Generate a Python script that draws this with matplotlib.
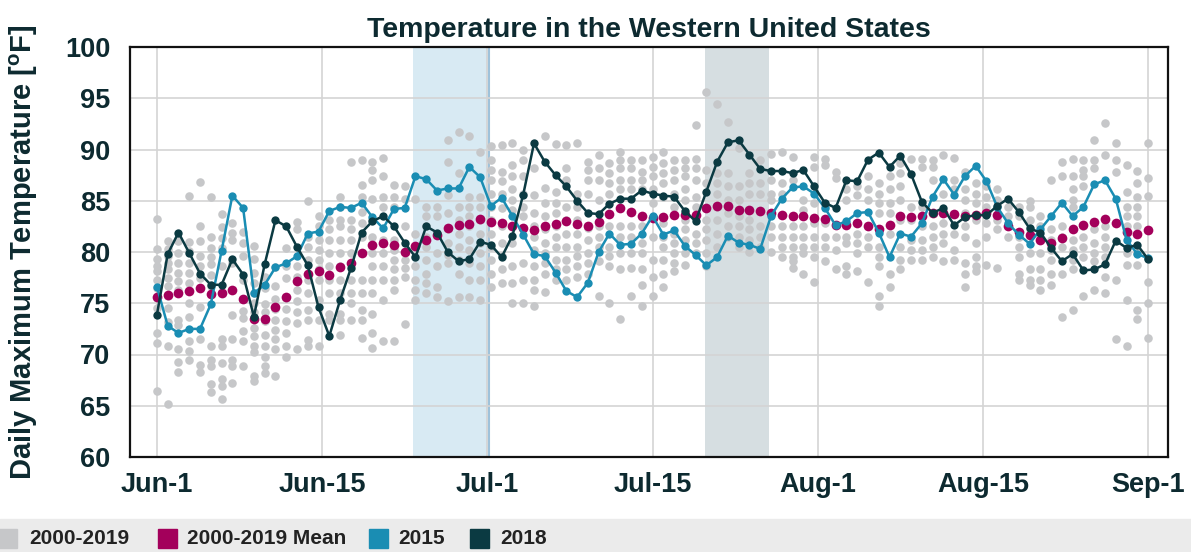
import numpy as np
import matplotlib
matplotlib.use('Agg')
from matplotlib import pyplot as plt
from matplotlib.patches import Rectangle

plt.rcParams['font.family'] = ['Liberation Sans', 'DejaVu Sans']
plt.rcParams['font.weight'] = 'bold'
plt.rcParams['mathtext.fontset'] = 'custom'
plt.rcParams['mathtext.rm'] = 'Liberation Sans:bold'
plt.rcParams['mathtext.bf'] = 'Liberation Sans:bold'

# 每天一个点, Jun-1 .. Sep-1
days = np.arange(93)
tick_labels = ['Jun-1', 'Jun-15', 'Jul-1', 'Jul-15', 'Aug-1', 'Aug-15', 'Sep-1']

mean_vals = [75.6, 75.8, 76.0, 76.2, 76.5, 75.9, 76.0, 76.3, 75.4, 73.5,
             73.5, 74.6, 75.6, 77.2, 77.9, 78.1, 77.8, 78.5, 78.9, 79.9,
             80.7, 80.9, 80.7, 80.0, 80.6, 81.2, 81.7, 82.3, 82.6, 82.7,
             83.2, 82.9, 82.8, 82.5, 82.3, 82.1, 82.5, 82.7, 83.0, 82.7,
             82.5, 82.9, 83.7, 84.3, 83.9, 83.5, 83.3, 83.4, 83.6, 83.6,
             83.6, 84.3, 84.5, 84.5, 84.1, 84.1, 84.0, 83.8, 83.6, 83.5,
             83.5, 83.3, 83.2, 82.6, 82.6, 82.8, 82.5, 82.2, 82.6, 83.5,
             83.4, 83.5, 83.8, 83.8, 83.7, 83.5, 83.6, 83.8, 83.6, 82.5,
             82.0, 81.7, 81.2, 80.9, 81.4, 82.2, 82.6, 82.9, 83.2, 82.8,
             82.0, 81.8, 82.1]

t2015 = [76.6, 72.8, 72.1, 72.5, 72.5, 74.9, 80.1, 85.5, 84.3, 76.0,
         76.8, 78.5, 78.9, 79.6, 81.8, 82.0, 84.0, 84.4, 84.3, 84.8,
         83.4, 82.3, 84.2, 84.3, 87.4, 87.1, 86.0, 86.2, 86.2, 88.3,
         87.3, 84.5, 85.3, 83.5, 81.7, 79.8, 79.6, 78.0, 76.2, 75.6,
         77.0, 80.0, 81.8, 80.7, 80.8, 81.8, 83.5, 81.7, 82.1, 80.6,
         79.7, 78.7, 79.5, 81.6, 80.9, 80.7, 80.3, 83.5, 85.2, 86.3,
         86.4, 85.7, 84.3, 82.6, 83.0, 83.8, 83.9, 81.9, 79.5, 81.8,
         81.5, 82.8, 85.4, 87.1, 85.6, 87.4, 88.4, 86.9, 84.4, 82.8,
         81.7, 80.8, 82.2, 83.5, 84.8, 83.5, 84.4, 86.6, 87.0, 85.2,
         81.2, 79.8, 79.4]

t2018 = [73.9, 79.8, 81.9, 79.9, 77.9, 76.8, 76.8, 79.3, 77.8, 73.7,
         78.8, 83.1, 82.5, 80.5, 78.7, 74.6, 71.8, 75.3, 78.4, 81.9,
         83.0, 83.5, 82.5, 80.9, 79.5, 82.5, 81.9, 80.0, 79.1, 79.3,
         81.0, 80.7, 79.5, 81.6, 85.6, 90.6, 88.8, 87.5, 86.4, 85.0,
         83.8, 83.7, 84.7, 85.2, 85.2, 86.0, 85.7, 85.5, 85.4, 84.0,
         83.0, 85.9, 88.8, 90.7, 90.9, 89.5, 88.1, 87.9, 87.9, 87.7,
         88.0, 86.4, 84.8, 84.3, 87.0, 86.9, 89.0, 89.7, 88.3, 89.4,
         87.6, 84.9, 83.8, 84.3, 82.6, 83.4, 83.6, 83.6, 84.5, 85.2,
         83.9, 82.3, 81.9, 80.4, 79.1, 79.8, 78.2, 78.3, 78.8, 81.1,
         80.4, 80.7, 79.3]

# 2000-2019 各年 (每天一列)
gray_vals = [
    [83.2, 80.3, 79.3, 78.6, 78.1, 77.3, 76.5, 75.5, 74.5, 72.1, 71.1, 66.4],
    [81.1, 80.3, 79.6, 78.9, 78.3, 77.5, 76.7, 75.7, 74.5, 73.2, 70.8, 65.2],
    [81.1, 79.9, 78.9, 78.0, 77.2, 76.3, 73.4, 72.9, 70.5, 69.3, 68.3],
    [85.5, 81.0, 80.1, 78.9, 78.0, 77.0, 75.0, 73.7, 71.3, 70.3, 69.5],
    [86.8, 82.5, 81.1, 79.6, 78.6, 77.5, 74.6, 71.5, 69.0, 68.3],
    [85.4, 81.5, 80.4, 79.5, 78.8, 77.8, 76.7, 70.8, 69.5, 68.9, 67.1, 66.3],
    [83.7, 82.4, 81.4, 80.4, 78.6, 76.0, 71.5, 70.8, 69.2, 67.6, 66.9, 65.7],
    [82.8, 81.9, 81.2, 78.9, 73.9, 71.5, 69.5, 68.9, 67.2],
    [82.0, 80.9, 79.6, 77.3, 75.4, 74.2, 73.6, 72.3, 71.3, 68.9],
    [80.6, 79.3, 78.0, 77.0, 76.0, 75.0, 74.1, 72.6, 71.8, 70.8, 70.2, 67.9, 67.4],
    [77.6, 76.5, 74.9, 74.1, 73.3, 71.9, 70.8, 69.8, 68.9, 68.2],
    [78.5, 76.7, 75.4, 74.4, 73.4, 72.4, 71.5, 70.5, 67.9],
    [80.4, 78.6, 77.5, 75.5, 74.4, 73.3, 72.1, 70.8, 69.8],
    [82.9, 82.2, 78.6, 77.6, 76.3, 75.2, 74.1, 73.1, 70.5],
    [85.0, 81.5, 80.5, 79.2, 77.3, 76.0, 74.3, 73.4, 71.4, 70.8],
    [83.5, 82.5, 81.2, 80.2, 79.2, 78.3, 77.3, 75.3, 73.4, 70.8],
    [83.1, 82.2, 81.2, 79.9, 78.6, 77.3, 76.0, 74.0, 73.4],
    [85.4, 84.4, 83.1, 82.5, 81.2, 79.9, 78.6, 77.3, 76.0, 74.0, 73.4, 71.9],
    [88.8, 83.1, 82.2, 81.2, 79.9, 77.3, 76.0, 75.0, 73.4],
    [89.0, 86.5, 85.4, 83.9, 82.8, 81.5, 77.3, 76.0, 74.3, 73.4, 71.6],
    [88.8, 88.0, 87.0, 85.2, 83.1, 81.5, 79.9, 78.6, 77.3, 76.0, 74.0, 72.1, 70.6],
    [89.2, 87.4, 85.4, 84.4, 81.2, 79.9, 78.6, 77.3, 75.3, 71.3],
    [86.5, 85.4, 84.4, 81.2, 80.2, 79.2, 78.3, 77.3, 76.3, 71.3],
    [86.4, 85.2, 82.5, 80.0, 79.2, 78.4, 77.6, 73.0],
    [85.2, 81.8, 80.5, 79.5, 78.6, 77.3, 76.3, 75.3],
    [84.4, 83.5, 82.5, 81.5, 80.5, 79.2, 77.9, 77.0, 76.0],
    [84.4, 83.5, 79.9, 78.6, 76.6, 75.6],
    [90.9, 88.8, 85.6, 83.8, 82.2, 80.9, 79.7, 78.9, 75.2],
    [91.7, 87.7, 84.4, 83.1, 81.8, 80.5, 79.2, 77.9, 75.6],
    [91.3, 85.4, 84.4, 83.5, 82.5, 81.2, 80.2, 78.9, 77.3, 75.6],
    [89.8, 85.4, 84.4, 83.1, 81.8, 80.9, 79.9, 78.6, 77.3, 75.3],
    [90.3, 89.0, 88.0, 87.0, 85.7, 84.4, 83.1, 81.8, 80.5, 79.2, 77.9, 76.6],
    [90.4, 87.8, 86.9, 85.7, 84.3, 82.5, 80.9, 79.6, 78.3, 77.0],
    [90.6, 88.5, 87.4, 86.1, 85.1, 84.1, 80.9, 78.6, 77.0, 75.0],
    [90.0, 89.0, 87.4, 85.7, 84.4, 83.5, 78.9, 77.3, 75.0],
    [88.2, 85.6, 83.8, 82.5, 81.5, 80.2, 78.6, 77.3, 76.3, 74.7],
    [91.3, 86.2, 84.8, 83.5, 82.2, 80.9, 79.9, 78.9, 77.9, 76.1],
    [90.5, 85.9, 84.8, 83.8, 82.5, 81.5, 80.5, 79.2, 78.3, 77.3],
    [90.4, 88.2, 87.0, 84.4, 83.1, 81.8, 80.5, 79.2, 78.3, 77.3],
    [90.6, 85.7, 84.4, 83.1, 81.8, 80.5, 79.6, 78.6, 77.6],
    [88.8, 88.0, 87.0, 85.7, 82.3, 81.2, 79.9, 78.9, 77.9],
    [89.5, 88.2, 87.0, 85.1, 82.5, 81.5, 80.5, 79.1, 75.7],
    [88.7, 87.7, 86.7, 85.7, 82.5, 80.5, 79.6, 78.6, 75.0],
    [89.8, 89.0, 88.2, 87.0, 86.1, 82.5, 81.5, 79.9, 78.3, 73.5],
    [89.0, 88.2, 87.0, 86.1, 82.5, 81.5, 79.9, 78.4, 75.7],
    [89.0, 87.8, 87.0, 86.1, 82.5, 80.9, 79.9, 78.3, 76.8, 74.7],
    [89.3, 88.3, 87.4, 86.1, 84.8, 81.5, 79.2, 77.6, 75.7],
    [89.8, 88.7, 87.7, 86.7, 85.4, 82.8, 81.5, 80.5, 79.2, 77.9, 76.6],
    [89.0, 88.0, 87.0, 85.7, 84.4, 81.8, 80.9, 79.9, 78.9, 78.1],
    [89.0, 88.2, 87.4, 86.1, 85.1, 83.1, 82.2, 81.2, 79.9, 78.7],
    [92.4, 89.1, 88.2, 87.0, 85.4, 84.4, 81.8, 80.9, 79.9],
    [95.6, 88.0, 86.7, 83.1, 82.2, 81.2, 79.9, 78.6],
    [94.4, 87.7, 86.7, 85.7, 84.4, 83.1, 81.8, 80.5],
    [92.7, 87.7, 86.4, 85.1, 83.8, 82.5, 81.5],
    [90.1, 86.4, 85.1, 83.5, 82.5, 81.5, 80.5],
    [87.7, 86.7, 85.7, 83.1, 82.2, 81.2, 80.0],
    [89.0, 86.7, 85.7, 82.5, 81.5, 80.5],
    [89.6, 87.0, 85.7, 85.1, 82.5, 81.5, 80.0],
    [89.8, 86.7, 85.7, 82.5, 81.5, 80.5, 79.5],
    [89.3, 87.0, 82.5, 81.5, 80.5, 79.5, 79.1, 78.4],
    [85.1, 84.1, 82.5, 81.5, 80.5, 79.9, 77.9],
    [89.3, 88.3, 84.8, 82.8, 81.5, 80.5, 79.5, 77.1],
    [89.1, 88.5, 84.4, 82.8, 81.5, 80.5, 79.1],
    [87.8, 87.2, 81.5, 80.2, 78.3],
    [86.1, 85.1, 81.5, 80.9, 78.6, 77.9],
    [86.4, 85.6, 81.8, 80.9, 79.9, 78.1],
    [87.4, 86.1, 85.1, 81.5, 80.5, 77.1],
    [86.7, 85.7, 84.8, 83.8, 80.5, 79.5, 78.6, 75.7, 74.7],
    [87.4, 86.1, 84.8, 83.8, 81.8, 77.9, 76.6],
    [88.7, 87.7, 86.4, 85.1, 83.1, 80.5, 79.2, 78.3],
    [89.1, 84.4, 83.1, 81.2, 80.2, 79.2],
    [89.1, 88.3, 84.4, 82.5, 81.2, 80.2, 79.2],
    [89.0, 88.3, 87.0, 82.5, 81.5, 80.5, 79.5],
    [89.5, 85.7, 82.8, 81.8, 80.9, 79.1],
    [89.2, 87.0, 86.1, 81.8, 80.2, 79.2],
    [87.8, 86.1, 85.1, 83.8, 82.5, 81.5, 78.9, 77.9, 76.6],
    [86.7, 85.7, 84.8, 83.1, 80.9, 79.5, 78.6, 78.1],
    [86.4, 85.4, 84.4, 82.8, 81.5, 78.7],
    [86.1, 85.1, 83.1, 82.2, 78.4],
    [84.4, 83.5, 82.5, 81.5],
    [84.4, 83.5, 81.5, 80.5, 79.5, 77.9, 77.3],
    [85.0, 84.4, 83.1, 82.2, 79.9, 78.3, 77.3, 76.8],
    [83.5, 82.5, 81.2, 79.9, 78.3, 77.3, 76.3],
    [87.0, 82.2, 81.2, 80.2, 79.2, 77.9, 76.8],
    [88.8, 87.4, 82.5, 81.5, 80.5, 77.9, 73.7],
    [89.1, 87.4, 86.1, 85.1, 84.4, 81.2, 80.2, 79.2, 78.3, 74.3],
    [89.0, 88.0, 87.4, 86.4, 82.5, 81.5, 80.5, 79.5, 75.7],
    [90.9, 89.0, 88.2, 82.2, 80.9, 79.9, 79.1, 76.3],
    [92.6, 89.5, 82.5, 81.5, 80.5, 79.5, 77.6, 76.0],
    [90.6, 89.0, 87.8, 77.3, 71.5],
    [88.5, 85.9, 84.4, 83.5, 82.5, 79.9, 78.7, 75.3, 70.8],
    [87.9, 86.7, 85.4, 84.4, 83.5, 82.5, 79.9, 78.7, 74.3, 73.5],
    [90.6, 87.2, 85.5, 77.1, 75.0, 71.6],
]

dark = '#0d2a30'
c_gray = '#c6c7c9'
c_mean = '#a3005b'
c_2015 = '#1a8db3'
c_2018 = '#0b3a42'

fig = plt.figure(figsize=(11.91, 5.52), dpi=100)
ax = fig.add_axes([130 / 1191, 1 - 457 / 552, 1038 / 1191, 410 / 552])

# 阴影区域
ax.axvspan(23.8, 30.8, color='#d8eaf3', lw=0, zorder=0)
ax.axvline(30.8, color='#9fc2da', lw=1.5, zorder=0.5)
ax.axvspan(50.9, 56.8, color='#d6dee1', lw=0, zorder=0)

gx = [d for d, col in zip(days, gray_vals) for _ in col]
gy = [v for col in gray_vals for v in col]
ax.scatter(gx, gy, s=38, color=c_gray, lw=0, zorder=2)

ax.plot(days, mean_vals, ls='none', marker='o', ms=7, mew=0, color=c_mean, zorder=3)
ax.plot(days, t2015, color=c_2015, lw=1.8, marker='o', ms=6, mew=0, zorder=4)
ax.plot(days, t2018, color=c_2018, lw=1.8, marker='o', ms=6, mew=0, zorder=5)

ax.set_xlim(-2.5, 93.85)
ax.set_ylim(60, 100)
ax.set_xticks(np.linspace(0, 92, 7))
ax.set_xticklabels(tick_labels)
ax.set_yticks(range(60, 101, 5))
ax.tick_params(length=0, labelsize=19.5, colors=dark)
ax.tick_params(axis='x', pad=11)
ax.tick_params(axis='y', pad=14)
ax.grid(True, color='#d4d4d4', lw=1.2, zorder=1)
ax.set_axisbelow(True)
for s in ax.spines.values():
    s.set_linewidth(1.6)
    s.set_color('#111111')

ax.set_ylabel('Daily Maximum Temperature [$^{\\mathrm{o}}$F]', fontsize=21,
              fontweight='bold', color=dark, labelpad=18)
ax.set_title('Temperature in the Western United States', fontsize=20.5,
             fontweight='bold', color=dark, pad=7)

# 底部图例
fig.patches.append(Rectangle((0, 0), 1, 33 / 552, transform=fig.transFigure,
                             color='#ebebeb', zorder=0))
items = [(c_gray, -2, 29, '2000-2019'), (c_mean, 158, 187, '2000-2019 Mean'),
         (c_2015, 369, 398, '2015'), (c_2018, 470, 500, '2018')]
for col, px, tx, lab in items:
    fig.patches.append(Rectangle((px / 1191, 4 / 552), 19 / 1191, 19 / 552,
                                 transform=fig.transFigure, color=col, zorder=1))
    fig.text(tx / 1191, 13.5 / 552, lab, fontsize=15, color='#222222', va='center')

fig.savefig('out.png', dpi=100)
